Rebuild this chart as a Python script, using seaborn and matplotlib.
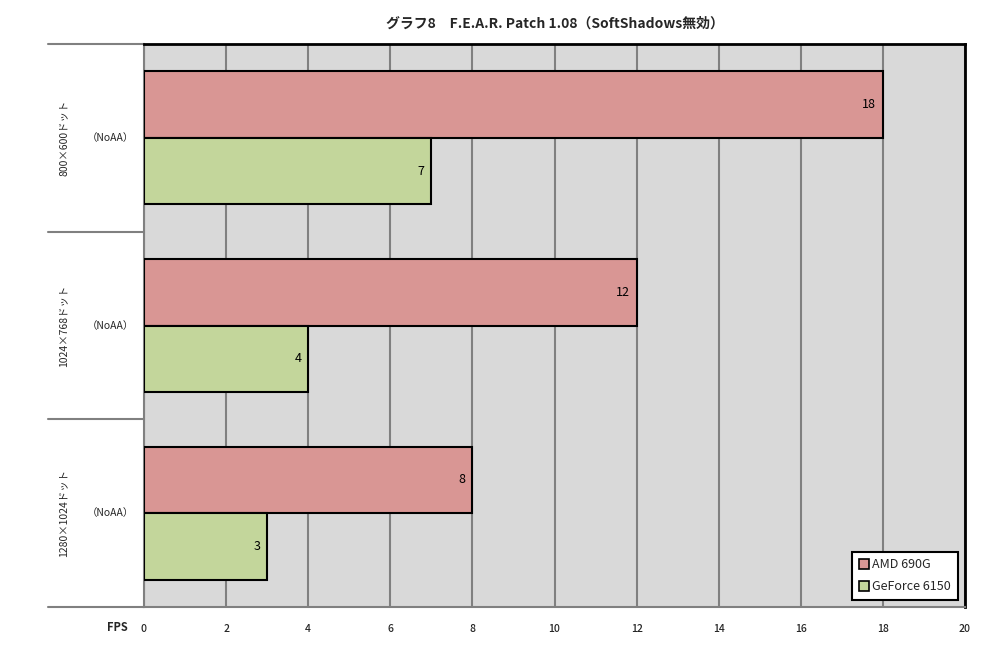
import matplotlib
matplotlib.use("Agg")
import matplotlib.pyplot as plt
import seaborn as sns
import pandas as pd
from matplotlib.lines import Line2D

resolutions = ["800×600ドット", "1024×768ドット", "1280×1024ドット"]
aa_label = "（NoAA）"
series_names = ["AMD 690G", "GeForce 6150"]
amd_values = [18, 12, 8]
geforce_values = [7, 4, 3]
x_ticks = [0, 2, 4, 6, 8, 10, 12, 14, 16, 18, 20]
title = "グラフ8　F.E.A.R. Patch 1.08（SoftShadows無効）"
colors = ["#d99694", "#c3d69b"]

sns.set_theme(style="white")
plt.rcParams['font.family'] = ['Noto Sans CJK JP', 'DejaVu Sans']

df = pd.DataFrame({
    "res": resolutions * 2,
    "fps": amd_values + geforce_values,
    "gpu": [series_names[0]] * 3 + [series_names[1]] * 3,
})

fig = plt.figure(figsize=(9.87, 6.48), dpi=100)
ax = fig.add_axes([144/987, 1-607/648, (965-144)/987, (607-44)/648])
ax.set_facecolor("#d9d9d9")

sns.barplot(data=df, x="fps", y="res", hue="gpu", order=resolutions,
            hue_order=series_names, palette=colors, orient="h", saturation=1,
            edgecolor="black", linewidth=1.5, width=0.71, ax=ax, zorder=3)

ax.set_xlim(0, 20)
ax.set_ylim(2.5, -0.5)
ax.set_xticks(x_ticks)
ax.set_xticklabels([str(t) for t in x_ticks], fontsize=7.5, fontweight="medium")
ax.tick_params(axis="x", length=0, pad=12)
ax.set_yticks([])
ax.set_xlabel("")
ax.set_ylabel("")
ax.grid(axis="x", color="#808080", linewidth=1.5, zorder=0)
ax.set_axisbelow(True)

for s in ["top", "right"]:
    ax.spines[s].set_color("black")
    ax.spines[s].set_linewidth(2)
for s in ["left", "bottom"]:
    ax.spines[s].set_color("#808080")
    ax.spines[s].set_linewidth(1.5)

# value labels
for cont in ax.containers:
    for bar in cont:
        w = bar.get_width()
        yc = bar.get_y() + bar.get_height() / 2
        ax.annotate(f"{w:g}", xy=(w, yc), xytext=(-5, 0), textcoords="offset points",
                    ha="right", va="center", fontsize=9, color="black", zorder=5)

# category labels & separator lines
for i, r in enumerate(resolutions):
    ax.text(-0.098, i, r, transform=ax.get_yaxis_transform(), rotation=90,
            ha="center", va="center", fontsize=7.5)
    ax.text(-0.041, i, aa_label, transform=ax.get_yaxis_transform(),
            ha="center", va="center", fontsize=7.5)
for yb in [-0.5, 0.5, 1.5, 2.5]:
    ax.add_line(Line2D([-0.117, 0], [yb, yb], transform=ax.get_yaxis_transform(),
                       color="#808080", linewidth=1.5, clip_on=False))

ax.text(-0.032, -0.037, "FPS", transform=ax.transAxes, ha="center", va="center",
        fontsize=8, fontweight="bold")

leg = ax.legend(loc="lower right", bbox_to_anchor=(0.9915, 0.0124), fontsize=9,
                frameon=True, fancybox=False, edgecolor="black", framealpha=1,
                handlelength=0.8, handleheight=0.8, handletextpad=0.3,
                labelspacing=0.7, borderpad=0.55, borderaxespad=0)
leg.get_frame().set_linewidth(1.5)
for h in leg.legend_handles:
    h.set_edgecolor("black")
    h.set_linewidth(1.2)

fig.text((144+965)/2/987, 1-24/648, title, ha="center", va="center",
         fontsize=10, fontweight="bold")

fig.savefig("out.png", dpi=100)
